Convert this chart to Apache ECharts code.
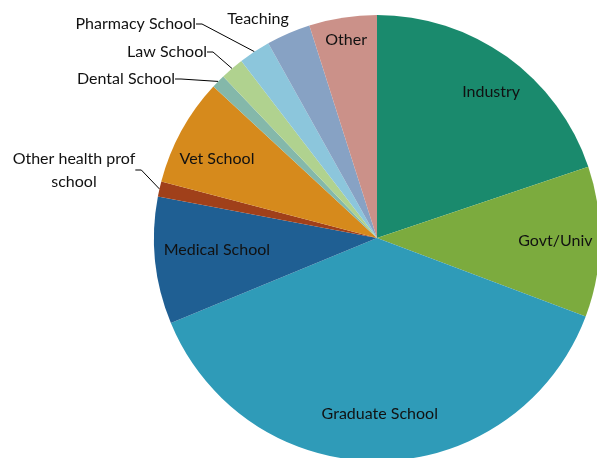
<!DOCTYPE html>
<html>
<head>
<meta charset="utf-8">
<script src="https://cdn.jsdelivr.net/npm/echarts@6/dist/echarts.min.js"></script>
<style>
  html, body { margin: 0; padding: 0; background: #fff; }
  #chart { width: 597px; height: 458px; }
</style>
</head>
<body>
<div id="chart"></div>
<script>
// 毕业去向占比（%）
const categories = ['Industry', 'Govt/Univ', 'Graduate School', 'Medical School', 'Other health prof school',
  'Vet School', 'Dental School', 'Law School', 'Pharmacy School', 'Teaching', 'Other'];
const values = [19.8, 10.9, 38.0, 9.2, 1.1, 7.8, 1.0, 1.7, 2.3, 3.2, 4.9];

const colors = ['#1a8a6d', '#7cab3e', '#2f9bb8', '#1f5f93', '#a0401a', '#d68a1c',
  '#84b8aa', '#b0d28f', '#8cc6dc', '#87a2c4', '#cb9189'];

const CENTER = [377, 238];
const RADIUS = 223;

// 扇区内标签：[半径比例, 角度微调(度)]
const insideLabel = {
  'Industry': [0.83, 2.4], 'Govt/Univ': [0.80, 0], 'Graduate School': [0.79, 0],
  'Medical School': [0.72, 1.7], 'Vet School': [0.80, -2.5], 'Other': [0.90, 0]
};
// 扇区外标签：锚点 + 对齐方式
const outsideAnchor = {
  'Other health prof school': [74, 170, 'center'],
  'Dental School': [175, 79, 'right'],
  'Law School': [207, 52, 'right'],
  'Pharmacy School': [196, 24, 'right'],
  'Teaching': [258, 19, 'center']
};

const total = values.reduce((a, b) => a + b, 0);
function midAngle(i) {
  let s = 0;
  for (let k = 0; k < i; k++) s += values[k];
  return (s + values[i] / 2) / total * 360;
}

const data = categories.map(function (name, i) {
  const inside = insideLabel[name] != null;
  return {
    name: name,
    value: values[i],
    itemStyle: { color: colors[i] },
    label: { position: inside ? 'inside' : 'outside' },
    labelLine: { show: !inside && name !== 'Teaching' }
  };
});

const chart = echarts.init(document.getElementById('chart'));
chart.setOption({
  animation: false,
  series: [{
    type: 'pie',
    center: CENTER,
    radius: RADIUS,
    startAngle: 90,
    clockwise: true,
    avoidLabelOverlap: false,
    data: data,
    itemStyle: { borderWidth: 0 },
    emphasis: { scale: false },
    label: {
      color: '#111',
      fontFamily: 'Lato',
      fontSize: 16,
      lineHeight: 23,
      formatter: function (p) {
        return p.name === 'Other health prof school' ? 'Other health prof\nschool' : p.name;
      }
    },
    labelLine: {
      length: 10,
      length2: 6,
      lineStyle: { color: '#000', width: 1 }
    },
    labelLayout: function (p) {
      const name = categories[p.dataIndex];
      const inner = insideLabel[name];
      if (inner) {
        const a = (midAngle(p.dataIndex) + inner[1]) * Math.PI / 180;
        const r = inner[0] * RADIUS;
        return {
          x: CENTER[0] + r * Math.sin(a),
          y: CENTER[1] - r * Math.cos(a),
          align: 'center',
          verticalAlign: 'middle'
        };
      }
      const o = outsideAnchor[name];
      return { x: o[0], y: o[1], align: o[2], verticalAlign: 'middle' };
    }
  }]
});
</script>
</body>
</html>
